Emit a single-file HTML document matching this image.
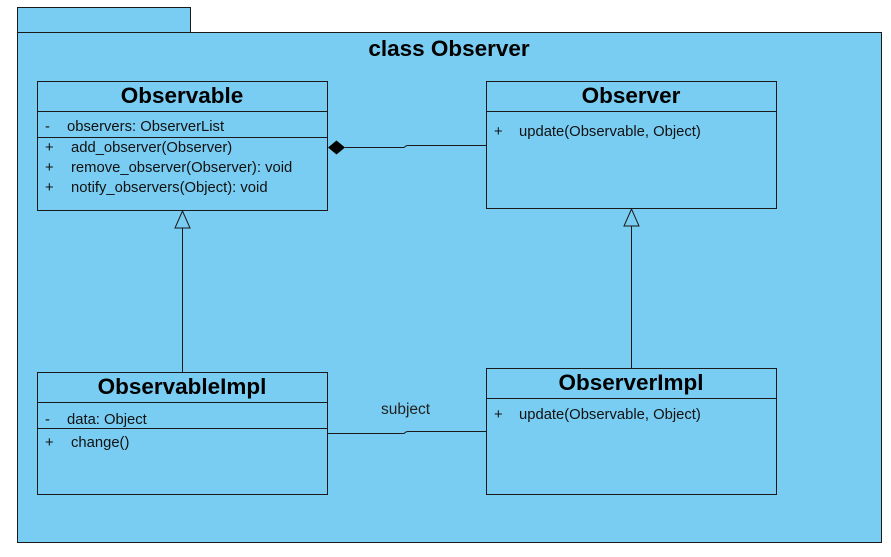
<!DOCTYPE html>
<html><head><style>
body{margin:0;background:#fff;}
svg{display:block;font-family:"Liberation Sans",Arial,sans-serif;}
</style></head><body>
<svg width="891" height="557" viewBox="0 0 891 557">
<g stroke="#1a1a1a" stroke-width="1" fill="#79cdf2">
<rect x="17.5" y="7.5" width="173" height="25"/>
<rect x="17.5" y="32.5" width="864" height="510"/>
<rect x="37.5" y="81.5" width="290" height="129"/>
<rect x="486.5" y="81.5" width="290" height="127"/>
<rect x="37.5" y="372.5" width="290" height="122"/>
<rect x="486.5" y="368.5" width="290" height="126"/>
</g>
<g stroke="#1a1a1a" stroke-width="1" fill="none">
<line x1="37" y1="111.5" x2="328" y2="111.5"/>
<line x1="37" y1="137.5" x2="328" y2="137.5"/>
<line x1="486" y1="111.5" x2="777" y2="111.5"/>
<line x1="37" y1="402.5" x2="328" y2="402.5"/>
<line x1="37" y1="428.5" x2="328" y2="428.5"/>
<line x1="486" y1="398.5" x2="777" y2="398.5"/>
<path d="M345 147.5 H404 Q406 145.5 408 145.5 H486"/>
<path d="M328 433.5 H404 Q406 431.5 408 431.5 H486"/>
<line x1="182.5" y1="228" x2="182.5" y2="372"/>
<line x1="631.5" y1="226" x2="631.5" y2="368"/>
<polygon points="182.5,211 175,228 190,228" fill="#79cdf2"/>
<polygon points="631.5,209 624,226 639,226" fill="#79cdf2"/>
</g>
<polygon points="328,147.5 336.5,140.5 345,147.5 336.5,154.5" fill="#000"/>
<g fill="#000" font-weight="bold" text-anchor="middle">
<text x="449" y="56" font-size="22.5">class Observer</text>
<text x="182" y="103" font-size="22.5">Observable</text>
<text x="631" y="103" font-size="22.5">Observer</text>
<text x="182" y="394" font-size="22.5">ObservableImpl</text>
<text x="631" y="390" font-size="22.5">ObserverImpl</text>
</g>
<g fill="#111" font-size="14.8">
<text x="45" y="131">-</text><text x="67" y="131">observers: ObserverList</text>
<text x="45" y="152">+</text><text x="71" y="152">add_observer(Observer)</text>
<text x="45" y="172">+</text><text x="71" y="172">remove_observer(Observer): void</text>
<text x="45" y="192">+</text><text x="71" y="192">notify_observers(Object): void</text>
<text x="494" y="136">+</text><text x="519" y="136">update(Observable, Object)</text>
<text x="45" y="424">-</text><text x="67" y="424">data: Object</text>
<text x="45" y="447">+</text><text x="71" y="447">change()</text>
<text x="494" y="419">+</text><text x="519" y="419">update(Observable, Object)</text>
<text x="381" y="414" fill="#222" font-size="15.5">subject</text>
</g>
</svg>
</body></html>
